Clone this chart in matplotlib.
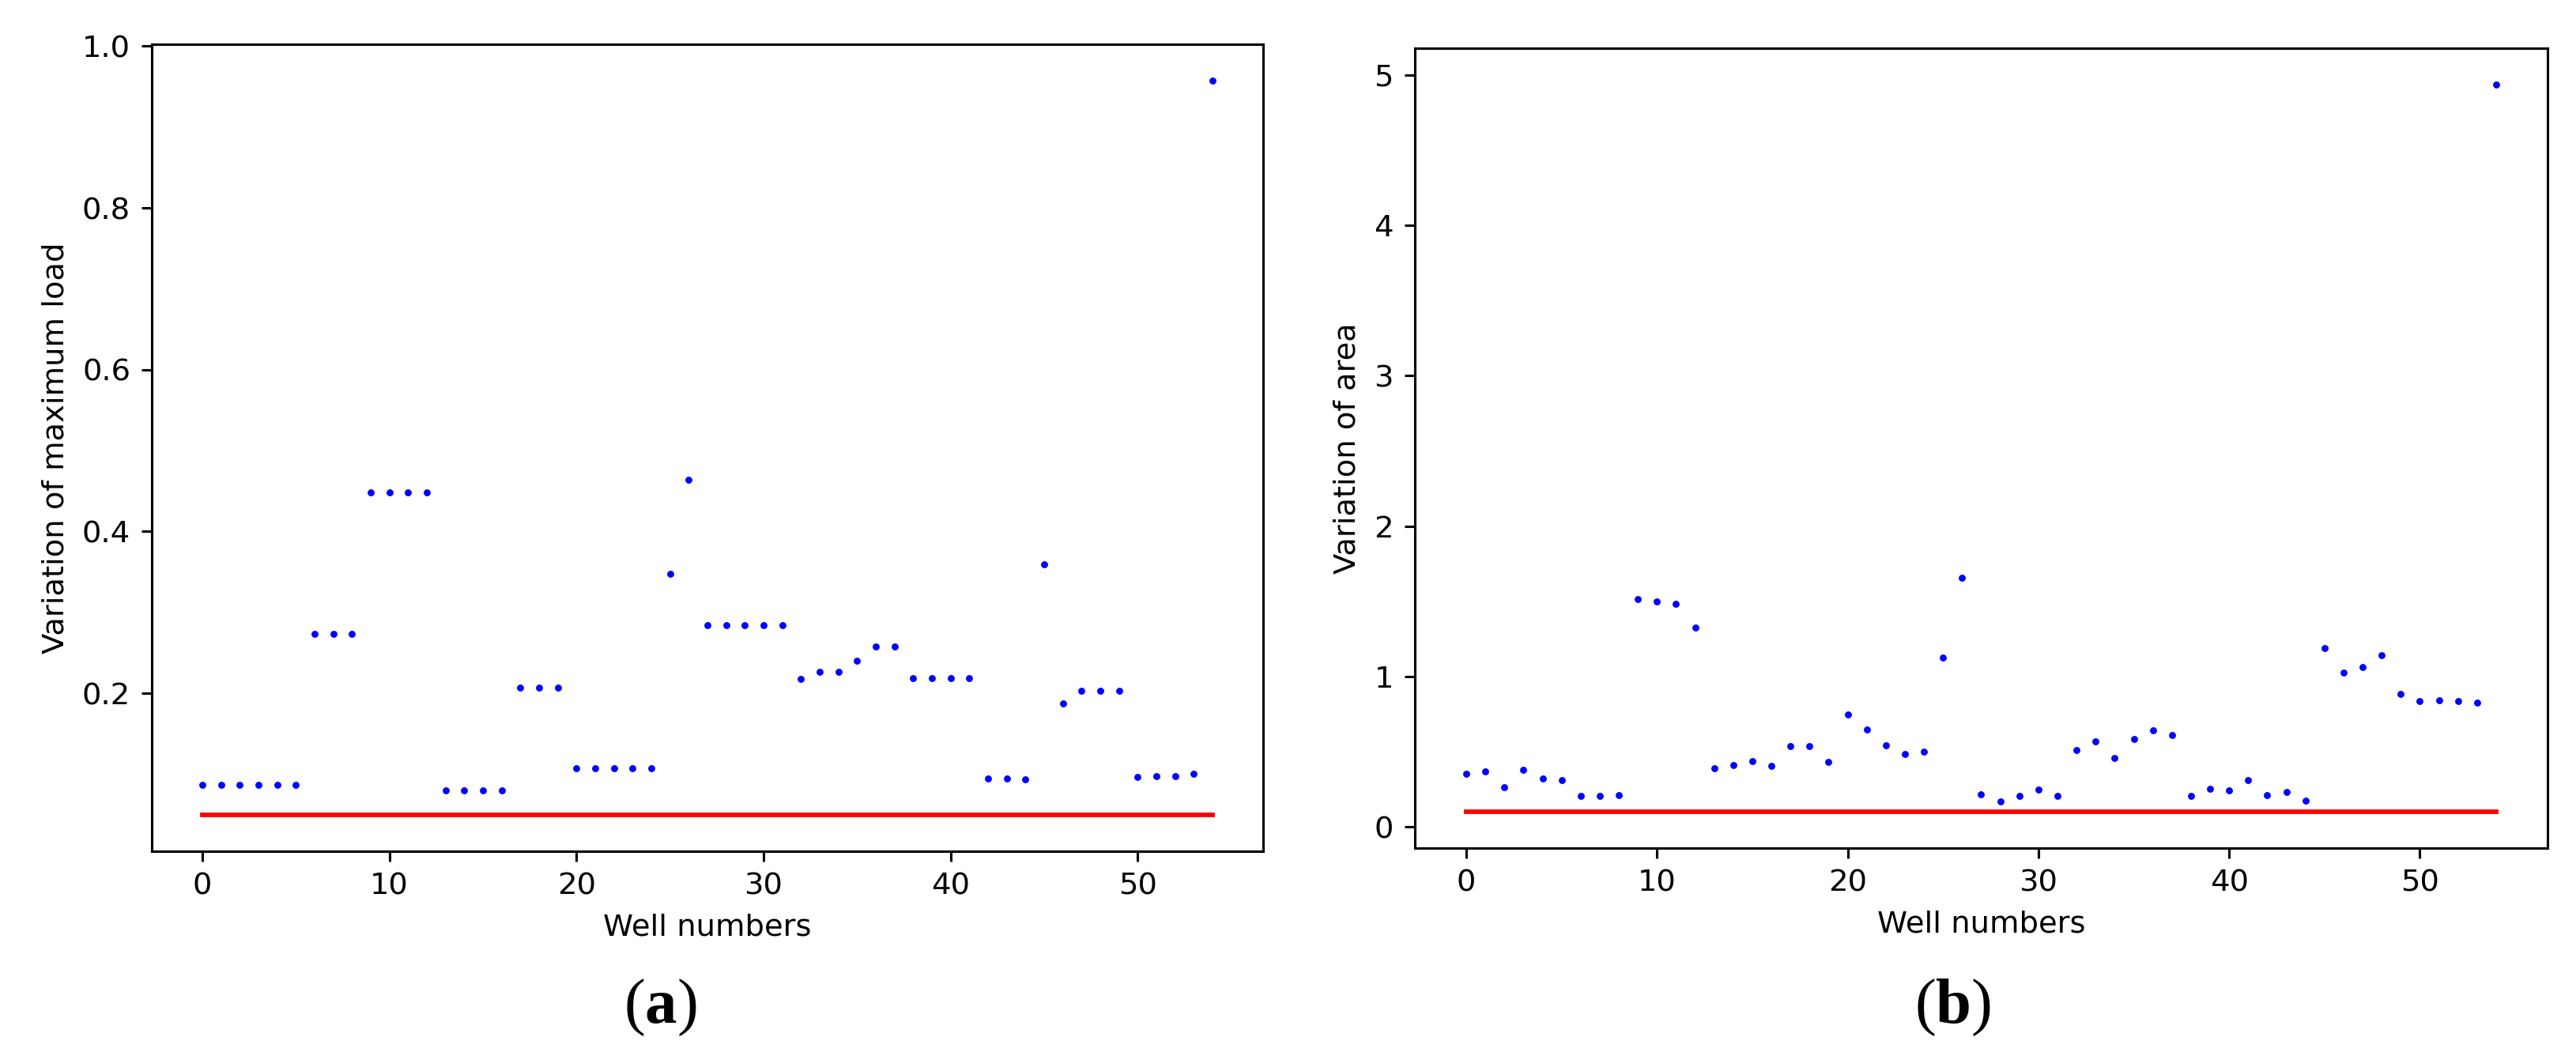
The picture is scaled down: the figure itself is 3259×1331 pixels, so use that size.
import numpy as np
import matplotlib
matplotlib.use("Agg")
import matplotlib.pyplot as plt

# =========================================================
# data
# =========================================================

wells = np.arange(55)

max_load_var = [
    0.087, 0.087, 0.087, 0.087, 0.087, 0.087,
    0.273, 0.273, 0.273,
    0.448, 0.448, 0.448, 0.448,
    0.080, 0.080, 0.080, 0.080,
    0.207, 0.207, 0.207,
    0.107, 0.107, 0.107, 0.107, 0.107,
    0.348, 0.464,
    0.284, 0.284, 0.284, 0.284, 0.284,
    0.218, 0.227, 0.227, 0.240, 0.258, 0.258,
    0.219, 0.219, 0.219, 0.219,
    0.095, 0.095, 0.094,
    0.359, 0.187,
    0.203, 0.203, 0.203,
    0.097, 0.098, 0.098, 0.100,
    0.957,
]

area_var = [
    0.350, 0.368, 0.262, 0.380, 0.321, 0.310, 0.203, 0.203, 0.210,
    1.514, 1.500, 1.485, 1.323,
    0.387, 0.413, 0.435, 0.405, 0.534, 0.538, 0.431,
    0.748, 0.648, 0.542, 0.483, 0.501,
    1.124, 1.658,
    0.214, 0.169, 0.206, 0.247, 0.206,
    0.512, 0.567, 0.457, 0.586, 0.641, 0.608,
    0.206, 0.251, 0.243, 0.310, 0.210, 0.232, 0.173,
    1.190, 1.024, 1.061, 1.139, 0.881,
    0.836, 0.840, 0.836, 0.825,
    4.937,
]

load_threshold = 0.05
area_threshold = 0.1

# =========================================================
# figure
# =========================================================

DPI = 277
fig = plt.figure(figsize=(3259 / DPI, 1331 / DPI), dpi=DPI)

plt.rcParams['mathtext.fontset'] = 'custom'
plt.rcParams['mathtext.bf'] = 'Liberation Serif:bold'
plt.rcParams['mathtext.rm'] = 'Liberation Serif'

ax1 = fig.add_axes([0.0589, 0.1908, 0.4314, 0.7671])
ax2 = fig.add_axes([0.5492, 0.1938, 0.4398, 0.7604])

# --- (a) maximum load ---
ax1.plot(wells, max_load_var, 'o', color='b', ms=2.3, mew=0)
ax1.plot([wells[0], wells[-1]], [load_threshold]*2, color='r')
ax1.set_xlabel("Well numbers")
ax1.set_ylabel("Variation of maximum load")

# --- (b) area ---
ax2.plot(wells, area_var, 'o', color='b', ms=2.3, mew=0)
ax2.plot([wells[0], wells[-1]], [area_threshold]*2, color='r')
ax2.set_xlabel("Well numbers")
ax2.set_ylabel("Variation of area")

fig.text(835 / 3259, 1 - 1275 / 1331, r"($\mathbf{a}$)",
         family='Liberation Serif', fontsize=21, ha='center', va='center')
fig.text(2471 / 3259, 1 - 1275 / 1331, r"($\mathbf{b}$)",
         family='Liberation Serif', fontsize=21, ha='center', va='center')

fig.savefig("out.png", dpi=DPI)
